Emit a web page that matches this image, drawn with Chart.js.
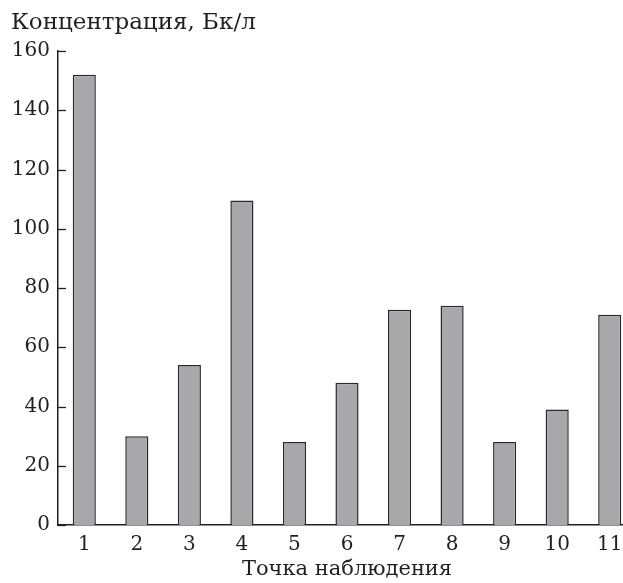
<!DOCTYPE html>
<html><head><meta charset="utf-8">
<script src="https://cdn.jsdelivr.net/npm/chart.js@4"></script>
<style>html,body{margin:0;padding:0;overflow:hidden;background:#fff}#wrap{width:642px;height:583px}</style>
</head><body><div id="wrap"><canvas id="c" width="642" height="583"></canvas></div>
<script>
const categories = ['1','2','3','4','5','6','7','8','9','10','11'];
const concentration = [152, 30, 54, 109.5, 28, 48, 72.7, 74, 28, 39, 71];
const yMin = 0, yMax = 160, yStep = 20;
const yAxisTitle = 'Концентрация, Бк/л';
const xAxisTitle = 'Точка наблюдения';

const FONT = "'DejaVu Serif', 'Liberation Serif', serif";
const INK = '#231f20';

const inwardTicks = {
  id: 'inwardTicks',
  afterDraw(chart) {
    const y = chart.scales.y, ctx = chart.ctx;
    ctx.save();
    ctx.strokeStyle = INK; ctx.lineWidth = 1.3;
    y.ticks.forEach(t => {
      const p = Math.round(y.getPixelForValue(t.value)) + 0.5;
      ctx.beginPath(); ctx.moveTo(y.right, p); ctx.lineTo(y.right + 8, p); ctx.stroke();
    });
    ctx.restore();
  }
};

new Chart(document.getElementById('c'), {
  type: 'bar',
  data: { labels: categories, datasets: [{
    data: concentration,
    backgroundColor: '#a7a8ac',
    borderColor: '#2a2a2a',
    borderWidth: 1.5,
    barPercentage: 0.44,
    categoryPercentage: 1
  }]},
  options: {
    responsive: false, animation: false,
    layout: { padding: { left: 11, right: 6, top: 0, bottom: 0 } },
    plugins: {
      legend: { display: false }, tooltip: { enabled: false },
      title: { display: true, text: yAxisTitle, align: 'start', color: INK,
        font: { family: FONT, size: 23, weight: 'normal' }, padding: { top: 9, bottom: 14.4 } }
    },
    scales: {
      x: {
        grid: { display: false, drawTicks: false },
        border: { display: true, color: INK, width: 1.5 },
        ticks: { color: INK, font: { family: FONT, size: 20 }, padding: 8, maxRotation: 0 },
        title: { display: true, text: xAxisTitle, color: INK, font: { family: FONT, size: 21 }, padding: { top: 0, bottom: 1 } },
        afterFit(s) { s.height = 58; }
      },
      y: {
        min: yMin, max: yMax,
        grid: { display: false, drawTicks: false },
        border: { display: true, color: INK, width: 1.5 },
        ticks: { stepSize: yStep, color: INK, font: { family: FONT, size: 20 }, padding: 8 },
        afterFit(s) { s.width = 47; }
      }
    }
  },
  plugins: [inwardTicks]
});
</script></body></html>
